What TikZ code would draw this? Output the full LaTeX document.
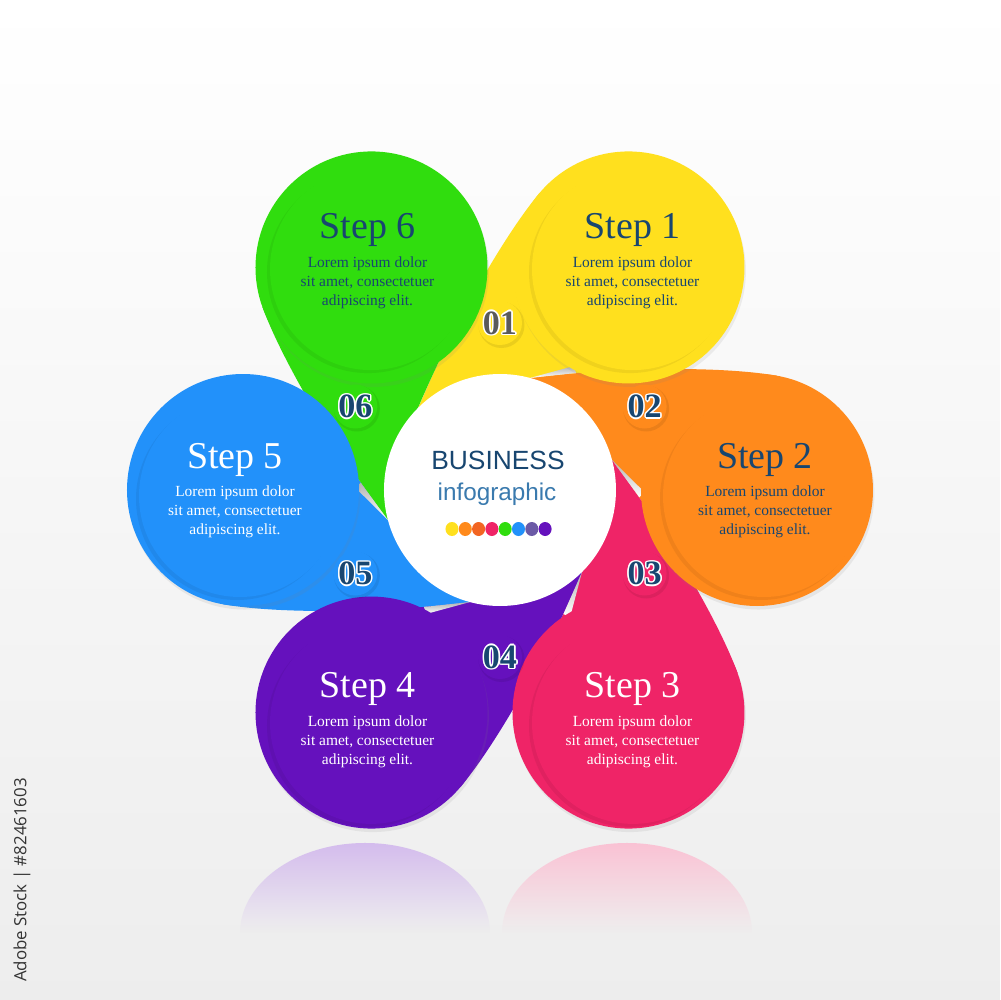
\documentclass[tikz,border=0pt]{standalone}
\usepackage{fontspec}
\setmainfont{Liberation Serif}
\newfontfamily\headfont{Liberation Sans}
\newfontfamily\stockfont{Open Sans}
\usetikzlibrary{calc,shadows,fadings}

\definecolor{stepyellow}{HTML}{FFE01E}
\definecolor{steporange}{HTML}{FF8A1C}
\definecolor{steppink}{HTML}{EF2467}
\definecolor{steppurple}{HTML}{6511BD}
\definecolor{stepblue}{HTML}{2291FA}
\definecolor{stepgreen}{HTML}{30DD0E}
\definecolor{navy}{HTML}{184670}
\definecolor{lightnavy}{HTML}{3A7AAE}
\definecolor{numgrey}{HTML}{5A5A5A}
\definecolor{dotred}{HTML}{F26522}
\definecolor{dotgrey}{HTML}{6B5AA6}

% number with a thin white rim
\newcommand\ringtext[2]{{\setbox0=\hbox{#2}%
  \color{white}%
  \rlap{\kern.45pt\copy0}\rlap{\kern-.45pt\copy0}%
  \rlap{\raise.45pt\copy0}\rlap{\lower.45pt\copy0}%
  \rlap{\kern.32pt\raise.32pt\copy0}\rlap{\kern-.32pt\raise.32pt\copy0}%
  \rlap{\kern.32pt\lower.32pt\copy0}\rlap{\kern-.32pt\lower.32pt\copy0}%
  \color{#1}\box0}}

\begin{document}
\begin{tikzpicture}[x=0.1mm, y=0.1mm,
  bigdisc/.style={fill=#1, drop shadow={shadow xshift=.4pt, shadow yshift=-1pt, opacity=.12}},
  steptitle/.style={font=\fontsize{10.8}{13}\selectfont, anchor=base, inner sep=0pt},
  stepbody/.style={font=\fontsize{4.4}{5.4}\selectfont, align=center, inner sep=0pt},
  numlabel/.style={font=\fontsize{9.7}{11}\selectfont\bfseries, inner sep=0pt}]

  \useasboundingbox (-500,-510) rectangle (500,490);
  \shade[top color=white, bottom color=black!7] (-500,-510) rectangle (500,490);

  % reflections
  \fill[steppurple!28, path fading=south] (-260,-443) arc[start angle=180, end angle=0, x radius=125, y radius=90] -- cycle;
  \fill[steppink!28, path fading=south] (2,-443) arc[start angle=180, end angle=0, x radius=125, y radius=90] -- cycle;

  % tails
  \foreach \ang/\col in {60/stepyellow, 0/steporange, -60/steppink,
                         -120/steppurple, 180/stepblue, 120/stepgreen}{
    \begin{scope}[rotate=\ang]
      \fill[\col] (30.02,112.05) .. controls (129.27,124.24) and (227.9,122.92) .. (277.14,114.24)
        -- (257,0) -- (190.93,-88.75) .. controls (169.22,-51.39) and (142.13,-9.90) .. (112.05,30.03)
        -- cycle;
      \shade[top color=black!30, bottom color=white] (30.02,112.05) -- (76,117) -- (74,124) -- cycle;
    \end{scope}
  }

  % circles and texts
  \foreach \ang/\col/\tcol [count=\i] in {60/stepyellow/navy, 0/steporange/navy,
      -60/steppink/white, -120/steppurple/white, 180/stepblue/white, 120/stepgreen/navy}{
    \fill[bigdisc=\col] (\ang:257) circle (116);
    \fill[black, opacity=.06] ($(\ang:262)+(-1,-9)$) circle (101);
    \fill[\col] ($(\ang:262)+(2,-6)$) circle (101);
    \node[steptitle, text=\tcol] (t\i) at ($(\ang:265)+(0,22)$) {Step \i};
    \node[stepbody, text=\tcol] (b\i) at ($(\ang:265)+(0,-22)$)
      {Lorem ipsum dolor\\sit amet, consectetuer\\adipiscing elit.};
  }
  % numbers
  \foreach \ang/\col/\ncol/\num [count=\i] in {60/stepyellow/numgrey/01,
      0/steporange/navy/02, -60/steppink/navy/03,
      -120/steppurple/navy/04, 180/stepblue/navy/05, 120/stepgreen/navy/06}{
    \fill[black, opacity=.08] ($(\ang+30:167)+(1.5,-2)$) circle (23);
    \fill[\col] (\ang+30:167) circle (22);
    \node[numlabel] (n\i) at (\ang+30:167) {\ringtext{\ncol}{\num}};
  }

  % centre
  \fill[white] (0,0) circle (116);
  \node[font=\headfont\fontsize{7.5}{9}\selectfont, text=navy, anchor=base] (biz) at (-2,21) {BUSINESS};
  \node[font=\headfont\fontsize{6.9}{8}\selectfont, text=lightnavy, anchor=base] (info) at (-3,-10) {infographic};
  \foreach \c [count=\j] in {stepyellow, steporange, dotred, steppink, stepgreen, stepblue, dotgrey, steppurple}
    \fill[\c] (-61.3+13.3*\j,-39) ellipse (6.5 and 7);

  \node[rotate=90, font=\stockfont\fontsize{4.8}{6}\selectfont, text=black!80] (stock) at (-478,-390)
    {Adobe Stock | \#82461603};
\end{tikzpicture}
\end{document}
